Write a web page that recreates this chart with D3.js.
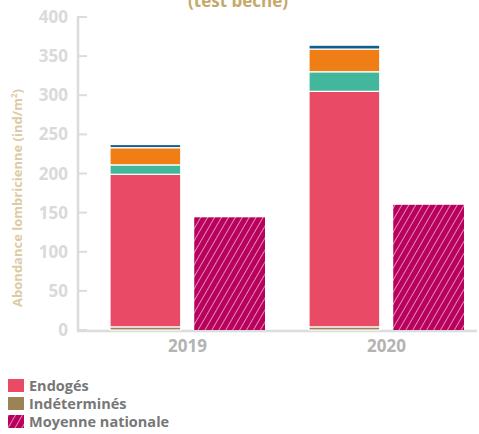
<!DOCTYPE html>
<html>
<head>
<meta charset="utf-8">
<script src="https://cdn.jsdelivr.net/npm/d3@7"></script>
<style>
  body { margin: 0; background: #fff; font-family: "Open Sans", sans-serif; }
  svg { display: block; }
</style>
</head>
<body>
<svg id="chart" width="479" height="434"></svg>
<script>
// data
const years = ["2019", "2020"];
const series = ["Indéterminés", "Endogés", "Épigés", "Épi-anéciques", "Anéciques"];
const indetermines = [4, 4];
const endoges = [195, 301];
const epiges = [12, 25];
const epiAneciques = [22, 29];
const aneciques = [4, 5];
const moyenneNationale = [144, 160];
const yTicks = [0, 50, 100, 150, 200, 250, 300, 350, 400];

const colors = {
  "Indéterminés": "#9a8456",
  "Endogés": "#e94a66",
  "Épigés": "#42b79b",
  "Épi-anéciques": "#f07e16",
  "Anéciques": "#0d5e8c"
};
const hatchColor = "#b8005c";

const svg = d3.select("#chart");

const defs = svg.append("defs");
const pat = defs.append("pattern")
  .attr("id", "hatch")
  .attr("patternUnits", "userSpaceOnUse")
  .attr("width", 6)
  .attr("height", 6)
  .attr("patternTransform", "rotate(30)");
pat.append("rect").attr("width", 6).attr("height", 6).attr("fill", hatchColor);
pat.append("line")
  .attr("x1", 0).attr("y1", 0).attr("x2", 0).attr("y2", 6)
  .attr("stroke", "#fff").attr("stroke-width", 1.1);

// build rows for the stack
const rows = years.map((y, i) => ({
  year: y,
  "Indéterminés": indetermines[i],
  "Endogés": endoges[i],
  "Épigés": epiges[i],
  "Épi-anéciques": epiAneciques[i],
  "Anéciques": aneciques[i]
}));
const stacked = d3.stack().keys(series)(rows);

const y = d3.scaleLinear().domain([0, 400]).range([330, 17]);
const x0 = d3.scaleBand().domain(years).range([88, 486]);
const x1 = d3.scaleBand().domain(["obs", "moy"]).range([22, 177]).paddingInner(0.16);

// axes
const yAxis = svg.append("g").attr("transform", "translate(78,0)");
yAxis.append("line")
  .attr("x1", 0).attr("x2", 0).attr("y1", y(400) - 1).attr("y2", y(0))
  .attr("stroke", "#dcdcdc").attr("stroke-width", 2.5);
yAxis.selectAll("line.tick").data(yTicks).enter().append("line")
  .attr("class", "tick")
  .attr("x1", 0).attr("x2", 9)
  .attr("y1", d => y(d)).attr("y2", d => y(d))
  .attr("stroke", "#dcdcdc").attr("stroke-width", 2);
yAxis.selectAll("text").data(yTicks).enter().append("text")
  .attr("x", -10)
  .attr("y", d => y(d))
  .attr("dy", "0.36em")
  .attr("text-anchor", "end")
  .attr("fill", "#dadada")
  .attr("font-size", 17)
  .attr("font-weight", 700)
  .text(d => d);

svg.append("line")
  .attr("x1", 77).attr("x2", 477).attr("y1", y(0) + 1).attr("y2", y(0) + 1)
  .attr("stroke", "#dcdcdc").attr("stroke-width", 2.5);

svg.selectAll("text.year").data(years).enter().append("text")
  .attr("class", "year")
  .attr("x", d => x0(d) + x0.bandwidth() / 2)
  .attr("y", 352)
  .attr("text-anchor", "middle")
  .attr("fill", "#b3b3b3")
  .attr("font-size", 17)
  .attr("font-weight", 700)
  .text(d => d);

// stacked bars
const layers = svg.append("g").selectAll("g").data(stacked).enter().append("g")
  .attr("fill", d => colors[d.key]);
layers.selectAll("rect").data(d => d).enter().append("rect")
  .attr("x", d => x0(d.data.year) + x1("obs"))
  .attr("width", x1.bandwidth())
  .attr("y", d => y(d[1]))
  .attr("height", d => y(d[0]) - y(d[1]))
  .attr("stroke", "#fff")
  .attr("stroke-width", 1.2);

// national average
svg.append("g").selectAll("rect").data(years).enter().append("rect")
  .attr("x", d => x0(d) + x1("moy"))
  .attr("width", x1.bandwidth())
  .attr("y", (d, i) => y(moyenneNationale[i]))
  .attr("height", (d, i) => y(0) - y(moyenneNationale[i]))
  .attr("fill", "url(#hatch)");

// title (second line, its top is cropped like in the source)
svg.append("text")
  .attr("x", 238).attr("y", 7)
  .attr("text-anchor", "middle")
  .attr("fill", "#c4a96a")
  .attr("font-size", 17)
  .attr("font-weight", 700)
  .text("(test bêche)");

svg.append("text")
  .attr("transform", "translate(22,198) rotate(-90)")
  .attr("text-anchor", "middle")
  .attr("fill", "#dccca3")
  .attr("font-size", 13)
  .attr("font-weight", 700)
  .html("Abondance lombricienne (ind/m<tspan dy='-5' font-size='8'>2</tspan><tspan dy='5'>)</tspan>");

// legend
const legendItems = [
  { label: "Endogés", fill: colors["Endogés"] },
  { label: "Indéterminés", fill: colors["Indéterminés"] },
  { label: "Moyenne nationale", fill: "url(#hatch)" }
];
const legend = svg.append("g").selectAll("g").data(legendItems).enter().append("g")
  .attr("transform", (d, i) => `translate(8,${379 + i * 18})`);
legend.append("rect")
  .attr("width", 16).attr("height", 13)
  .attr("fill", d => d.fill);
legend.append("text")
  .attr("x", 21).attr("y", 6.5).attr("dy", "0.36em")
  .attr("fill", "#777")
  .attr("font-size", 14.5)
  .attr("font-weight", 700)
  .text(d => d.label);
</script>
</body>
</html>
